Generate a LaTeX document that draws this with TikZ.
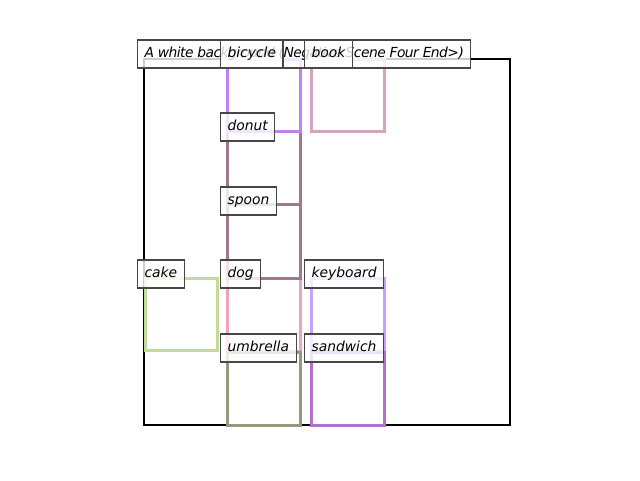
\documentclass[tikz,border=0pt]{standalone}
\usepackage{fontspec}
\setmainfont{DejaVu Sans}
\newfontfamily\tightsans[LetterSpace=-4.0]{DejaVu Sans}
\begin{document}
\begin{tikzpicture}[x=0.75pt,y=-0.75pt,
  bbox/.style={line width=2.25pt},
  mainbox/.style={line width=1.75pt,draw=black},
  tag/.style={anchor=west,draw=black!72,line width=0.8pt,fill=white,fill opacity=0.8,text opacity=1,
    inner xsep=5.25pt,inner ysep=0pt,minimum height=21pt,text height=7.6pt,text depth=2.4pt,
    font=\fontsize{10.4}{12}\selectfont\itshape}]
\definecolor{cbicycle}{RGB}{192,130,240}
\definecolor{cbook}{RGB}{212,165,192}
\definecolor{cdonut}{RGB}{162,120,142}
\definecolor{cspoon}{RGB}{162,120,142}
\definecolor{ccake}{RGB}{192,220,152}
\definecolor{cdog}{RGB}{240,160,194}
\definecolor{ckeyboard}{RGB}{200,162,250}
\definecolor{cumbrella}{RGB}{152,152,126}
\definecolor{csandwich}{RGB}{176,112,204}
\useasboundingbox (0,0) rectangle (640,480);
% scene frame
\draw[mainbox] (144,59) rectangle (510,425);
% object boxes
\draw[bbox,draw=cdog] (227,278) rectangle (300,351);
\draw[bbox,draw=ckeyboard] (311,278) rectangle (384,351);
\draw[bbox,draw=ccake] (145.5,278) rectangle (217,350.5);
\draw[bbox,draw=cumbrella] (227,352) rectangle (300,425);
\draw[bbox,draw=csandwich] (311,352) rectangle (384,425);
\draw[bbox,draw=cspoon] (227,204) rectangle (300,278);
\draw[bbox,draw=cdonut] (227,131) rectangle (300,204);
\draw[bbox,draw=cbicycle] (227,59) rectangle (300,131);
\draw[bbox,draw=cbook] (311,59) rectangle (384,131);
% labels
\node[tag,font=\fontsize{10.4}{12}\tightsans\itshape] (lmain) at (137,54) {A white background (Negative Scene Four End>)};
\node[tag] (lbicycle) at (220,54) {bicycle};
\node[tag] (lbook) at (304,54) {book};
\node[tag] (ldonut) at (220,127) {donut};
\node[tag] (lspoon) at (220,201) {spoon};
\node[tag] (lcake) at (137,274) {cake};
\node[tag] (ldog) at (220,274) {dog};
\node[tag] (lkeyboard) at (304,274) {keyboard};
\node[tag] (lumbrella) at (220,348) {umbrella};
\node[tag] (lsandwich) at (304,348) {sandwich};
\end{tikzpicture}
\end{document}
